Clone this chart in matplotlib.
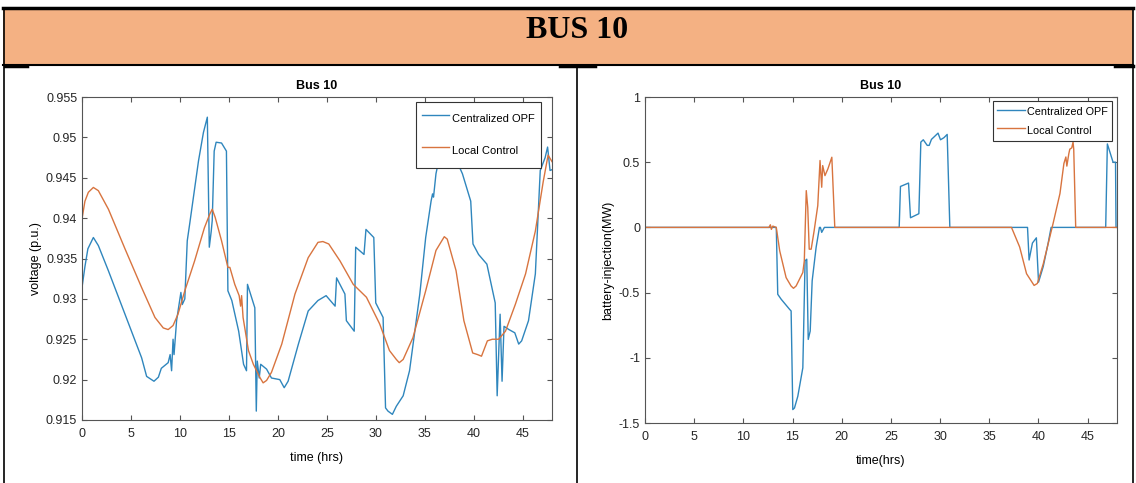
import matplotlib
matplotlib.use('Agg')
import matplotlib.pyplot as plt
from matplotlib.patches import Rectangle
from matplotlib.lines import Line2D

plt.rcParams['font.family'] = ['Liberation Sans', 'DejaVu Sans']
plt.rcParams['axes.unicode_minus'] = False

# ---- data ----
# voltage at bus 10, centralized OPF
t_v_opf = [0, 0.3, 0.6, 1.16, 1.67, 2.69, 4.39, 6.09, 6.6, 7.35, 7.8, 8.1, 8.8, 9.0, 9.15,
           9.3, 9.4, 9.66, 10.1, 10.24, 10.5, 10.75, 11.0, 11.9, 12.4, 12.8, 13.0, 13.2,
           13.3, 13.5, 13.7, 14.25, 14.75, 14.9, 15.3, 16.0, 16.5, 16.8, 16.9, 17.65,
           17.8, 17.9, 18.1, 18.25, 18.85, 19.35, 20.2, 20.65, 21.05, 22.1, 23.1, 24.1,
           24.93, 25.85, 26.0, 26.85, 27.0, 27.8, 27.95, 28.8, 29.0, 29.8, 30.0, 30.75,
           31.0, 31.25, 31.7, 32.1, 32.8, 33.45, 34.5, 35.1, 35.65, 35.8, 35.9, 36.15,
           36.5, 37.2, 38.0, 38.85, 39.7, 39.93, 40.5, 41.35, 42.2, 42.4, 42.7, 42.9,
           43.1, 43.6, 44.2, 44.6, 44.9, 45.6, 46.3, 46.8, 47.3, 47.55, 47.8, 48]
v_opf = [0.9314, 0.9340, 0.9362, 0.9376, 0.9366, 0.9335, 0.9281, 0.9227, 0.9204, 0.9198,
         0.9203, 0.9214, 0.9221, 0.9231, 0.9211, 0.9250, 0.9231, 0.9273, 0.9308, 0.9293,
         0.9300, 0.9372, 0.9393, 0.9471, 0.9506, 0.9525, 0.9364, 0.9384, 0.9397, 0.9483,
         0.9494, 0.9493, 0.9483, 0.9310, 0.9298, 0.9260, 0.9219, 0.9211, 0.9318, 0.9289,
         0.9161, 0.9223, 0.9202, 0.9219, 0.9213, 0.9202, 0.9200, 0.9190, 0.9198, 0.9244,
         0.9285, 0.9298, 0.9304, 0.9291, 0.9326, 0.9306, 0.9273, 0.9260, 0.9364, 0.9355,
         0.9386, 0.9376, 0.9295, 0.9277, 0.9165, 0.9161, 0.9157, 0.9167, 0.9180, 0.9211,
         0.9306, 0.9376, 0.9421, 0.9430, 0.9426, 0.9455, 0.9475, 0.9482, 0.9478, 0.9455,
         0.9421, 0.9368, 0.9355, 0.9343, 0.9295, 0.9180, 0.9281, 0.9198, 0.9266, 0.9262,
         0.9258, 0.9244, 0.9248, 0.9273, 0.9331, 0.9459, 0.9475, 0.9488, 0.9459, 0.9460]

# voltage at bus 10, local control
t_v_loc = [0, 0.3, 0.65, 1.16, 1.67, 2.7, 4.39, 6.09, 7.45, 8.3, 8.8, 9.3, 9.8, 10.5,
           11.5, 12.5, 13.05, 13.3, 13.6, 14.25, 14.9, 15.1, 15.6, 16.05, 16.2, 16.3,
           16.45, 17.0, 17.5, 18.2, 18.5, 18.85, 19.35, 20.4, 21.75, 23.1, 24.1, 24.6,
           25.2, 26.35, 27.7, 29.05, 30.4, 31.4, 32.1, 32.4, 32.8, 33.8, 35.1, 36.15,
           37.0, 37.3, 38.2, 39.0, 39.9, 40.4, 40.8, 41.4, 41.9, 42.55, 43.25, 44.25,
           45.3, 46.3, 47.1, 47.6, 48]
v_loc = [0.9399, 0.9421, 0.9432, 0.9438, 0.9434, 0.9411, 0.9362, 0.9314, 0.9277, 0.9264,
         0.9262, 0.9267, 0.9281, 0.9310, 0.9347, 0.9388, 0.9405, 0.9411, 0.9401, 0.9372,
         0.9339, 0.9339, 0.9318, 0.9304, 0.9291, 0.9304, 0.9277, 0.9236, 0.9219, 0.9202,
         0.9196, 0.9199, 0.9209, 0.9244, 0.9306, 0.9351, 0.9370, 0.9371, 0.9368, 0.9347,
         0.9318, 0.9302, 0.9269, 0.9236, 0.9225, 0.9221, 0.9225, 0.9252, 0.9310, 0.9360,
         0.9377, 0.9374, 0.9335, 0.9273, 0.9233, 0.9231, 0.9229, 0.9248, 0.9250, 0.9250,
         0.9260, 0.9293, 0.9331, 0.9384, 0.9445, 0.9478, 0.9470]

# battery injection, centralized OPF
t_b_opf = [0, 13.35, 13.5, 13.85, 14.7, 14.86, 15.03, 15.2, 15.54, 16.05, 16.28, 16.45,
           16.6, 16.8, 17.0, 17.4, 17.74, 17.84, 17.97, 18.24, 25.85, 25.98, 26.8, 27.0,
           27.85, 28.05, 28.3, 28.7, 28.9, 29.13, 29.37, 29.8, 30.05, 30.4, 30.73, 31.0,
           38.9, 39.06, 39.4, 39.8, 40.02, 40.5, 41.0, 41.3, 46.85, 47.02, 47.6, 47.85,
           47.9, 48]
p_b_opf = [0, 0, -0.513, -0.551, -0.628, -0.641, -1.397, -1.385, -1.295, -1.077, -0.256,
           -0.244, -0.859, -0.795, -0.41, -0.154, 0, 0, -0.038, 0, 0, 0.314, 0.34, 0.074,
           0.105, 0.654, 0.672, 0.629, 0.629, 0.675, 0.692, 0.723, 0.672, 0.688, 0.713, 0,
           0, -0.25, -0.12, -0.08, -0.42, -0.30, -0.12, 0, 0, 0.64, 0.5, 0.5, 0, 0]

# battery injection, local control
t_b_loc = [0, 12.6, 12.75, 12.85, 13.0, 13.35, 13.7, 14.35, 14.85, 15.1, 15.37, 16.05,
           16.2, 16.4, 16.55, 16.7, 16.9, 17.2, 17.57, 17.8, 17.97, 18.07, 18.3, 18.6,
           19.0, 19.3, 37.27, 38.1, 38.8, 39.57, 39.9, 40.5, 41.5, 42.2, 42.6, 42.8, 42.9,
           43.1, 43.2, 43.4, 43.53, 43.6, 43.8, 48]
p_b_loc = [0, 0, 0.02, -0.015, 0.01, 0, -0.18, -0.385, -0.449, -0.467, -0.449, -0.346,
           -0.256, 0.282, 0.154, -0.167, -0.167, -0.026, 0.167, 0.513, 0.308, 0.474, 0.397,
           0.449, 0.538, 0, 0, -0.15, -0.355, -0.445, -0.43, -0.28, 0.03, 0.26, 0.49, 0.54,
           0.47, 0.565, 0.6, 0.61, 0.654, 0.6, 0, 0]

series_names = ['Centralized OPF', 'Local Control']
xticks = [0, 5, 10, 15, 20, 25, 30, 35, 40, 45]
v_ticks = [0.915, 0.92, 0.925, 0.93, 0.935, 0.94, 0.945, 0.95, 0.955]
v_ticklabels = ['0.915', '0.92', '0.925', '0.93', '0.935', '0.94', '0.945', '0.95', '0.955']
b_ticks = [-1.5, -1, -0.5, 0, 0.5, 1]
b_ticklabels = ['-1.5', '-1', '-0.5', '0', '0.5', '1']

BLUE = '#2f86bd'
ORANGE = '#d8743f'
AXC = '#555555'

W, H = 1136, 483
fig = plt.figure(figsize=(W / 100, H / 100), dpi=100)


def fx(px):
    return px / W


def fy(py):
    return 1 - py / H


# table-like header and borders
fig.patches.append(Rectangle((fx(3), fy(65)), fx(1133) - fx(3), fy(9) - fy(65),
                             transform=fig.transFigure, facecolor='#F4B183', edgecolor='none'))
for (x0, y0, x1, y1, lw) in [(3, 8, 1133, 8, 2.5), (3, 65, 1133, 65, 1.5),
                             (4, 8, 4, 483, 1.2), (577, 65, 577, 483, 1.2),
                             (1133, 8, 1133, 483, 1.2),
                             (5, 66, 27, 66, 2.5), (560, 66, 595, 66, 2.5), (1115, 66, 1133, 66, 2.5)]:
    fig.add_artist(Line2D([fx(x0), fx(x1)], [fy(y0), fy(y1)], transform=fig.transFigure,
                          color='black', lw=lw))
fig.text(fx(577), fy(31), 'BUS 10', family='Liberation Serif', weight='bold', size=23,
         ha='center', va='center')


def style(ax):
    for s in ax.spines.values():
        s.set_color(AXC)
        s.set_linewidth(0.8)
    ax.tick_params(direction='in', top=True, right=True, length=3.6, width=0.8,
                   color=AXC, labelcolor='#262626', labelsize=9)
    ax.tick_params(axis='x', pad=6)
    ax.tick_params(axis='y', pad=3.5)


# left: voltage
ax1 = fig.add_axes([fx(82), fy(420), fx(552) - fx(82), fy(97) - fy(420)])
ax1.plot(t_v_opf, v_opf, color=BLUE, lw=1.0, label=series_names[0])
ax1.plot(t_v_loc, v_loc, color=ORANGE, lw=1.0, label=series_names[1])
ax1.set_xlim(0, 48)
ax1.set_ylim(0.915, 0.955)
ax1.set_xticks(xticks)
ax1.set_yticks(v_ticks)
ax1.set_yticklabels(v_ticklabels)
style(ax1)
ax1.set_title('Bus 10', fontsize=9, fontweight='bold', pad=6)
ax1.set_xlabel('time (hrs)', fontsize=9)
ax1.set_ylabel('voltage (p.u.)', fontsize=9)
ax1.xaxis.set_label_coords(0.5, -0.1)
ax1.yaxis.set_label_coords(-0.085, 0.5)
leg1 = ax1.legend(loc='upper right', bbox_to_anchor=(0.977, 0.985), borderaxespad=0,
                  fontsize=8, handlelength=2.4, handletextpad=0.3, handleheight=2.7,
                  labelspacing=0.85, borderpad=0.55, fancybox=False, framealpha=1)
leg1.get_frame().set_edgecolor('#333333')
leg1.get_frame().set_linewidth(0.8)

# right: battery injection
ax2 = fig.add_axes([fx(645), fy(423), fx(1117) - fx(645), fy(97) - fy(423)])
ax2.plot(t_b_opf, p_b_opf, color=BLUE, lw=1.0, label=series_names[0])
ax2.plot(t_b_loc, p_b_loc, color=ORANGE, lw=1.0, label=series_names[1])
ax2.set_xlim(0, 48)
ax2.set_ylim(-1.5, 1)
ax2.set_xticks(xticks)
ax2.set_yticks(b_ticks)
ax2.set_yticklabels(b_ticklabels)
style(ax2)
ax2.set_title('Bus 10', fontsize=9, fontweight='bold', pad=6)
ax2.set_xlabel('time(hrs)', fontsize=9)
ax2.set_ylabel('battery-injection(MW)', fontsize=9)
ax2.xaxis.set_label_coords(0.5, -0.097)
ax2.yaxis.set_label_coords(-0.066, 0.5)
leg2 = ax2.legend(loc='upper right', bbox_to_anchor=(0.989, 0.988), borderaxespad=0,
                  fontsize=7.8, handlelength=2.6, handletextpad=0.2, handleheight=1.6,
                  labelspacing=0.41, borderpad=0.35, fancybox=False, framealpha=1)
leg2.get_frame().set_edgecolor('#333333')
leg2.get_frame().set_linewidth(0.8)

fig.savefig('out.png', dpi=100, facecolor='white')
